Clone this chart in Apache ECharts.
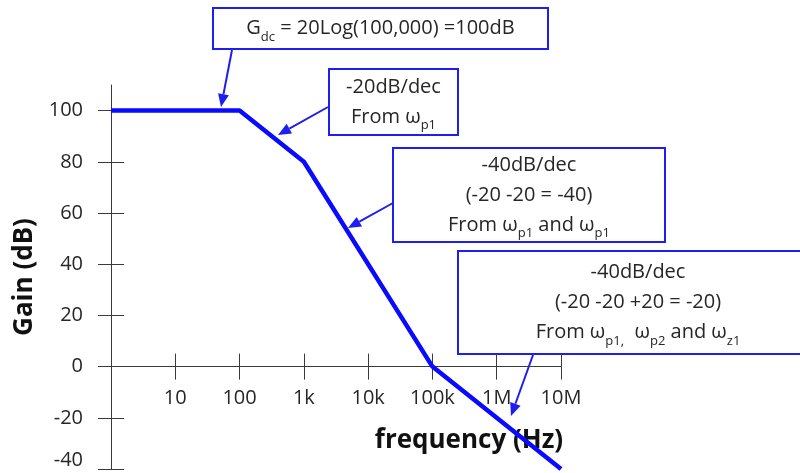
<!DOCTYPE html>
<html><head><meta charset="utf-8">
<script src="https://cdn.jsdelivr.net/npm/echarts@6/dist/echarts.min.js"></script>
<style>html,body{margin:0;padding:0;background:#fff}#c{width:800px;height:473px}</style>
</head><body><div id="c"></div>
<script>
const frequencies = [1, 100, 1000, 100000, 10000000];
const gainDb = [100, 100, 80, 0, -40];
const xTickLabels = {10:'10',100:'100',1000:'1k',10000:'10k',100000:'100k',1000000:'1M',10000000:'10M'};
const yTicks = [-40,-20,0,20,40,60,80,100];

const FONT = '"Open Sans", sans-serif';
const BLUE = '#0a0aff';
const BOX = '#1e1ef0';
const TXT = '#262626';

function box(x, y, w, h, lines) {
  return {
    type: 'group', z: 50,
    children: [
      {type:'rect', shape:{x:x,y:y,width:w,height:h}, style:{fill:'#fff', stroke:BOX, lineWidth:2}},
      {type:'text', style:{
        x: x + w/2, y: y + h/2, align:'center', verticalAlign:'middle',
        text: lines.join('\n'), fill: TXT, fontFamily: FONT, fontSize: 20, lineHeight: 30,
        rich: {
          n:{fontSize:20, fontFamily:FONT, fill:TXT, lineHeight:30},
          s:{fontSize:13, fontFamily:FONT, fill:TXT, lineHeight:17, verticalAlign:'bottom'}
        }
      }}
    ]
  };
}
function arrow(x1, y1, x2, y2) {
  const a = Math.atan2(y2-y1, x2-x1), L = 13, W = 5.5;
  const bx = x2 - L*Math.cos(a), by = y2 - L*Math.sin(a);
  const px = -Math.sin(a), py = Math.cos(a);
  return {
    type:'group', z: 60,
    children: [
      {type:'line', shape:{x1:x1,y1:y1,x2:bx,y2:by}, style:{stroke:BOX, lineWidth:2}},
      {type:'polygon', shape:{points:[[x2,y2],[bx+W*px,by+W*py],[bx-W*px,by-W*py]]}, style:{fill:BOX}}
    ]
  };
}

const chart = echarts.init(document.getElementById('c'));
const axisColor = '#3a3a3a';
chart.setOption({
  animation:false,
  grid:{left:111, right:239, top:85, bottom:4, containLabel:false, outerBoundsMode:'none'},
  xAxis:[{
    type:'log', logBase:10, min:1, max:10000000, position:'bottom', offset:0,
    axisLine:{onZero:false, lineStyle:{color:axisColor, width:1}},
    axisTick:{show:true, length:13, inside:false, lineStyle:{color:axisColor}},
    splitLine:{show:false}, minorTick:{show:false},
    axisLabel:{margin:22, fontSize:20, fontFamily:FONT, color:TXT, formatter:v=>xTickLabels[Math.round(v)]||''},
    name:'frequency (Hz)', nameLocation:'middle', nameGap:61,
    nameTextStyle:{fontSize:26, fontWeight:'bold', fontFamily:FONT, color:'#111', padding:[0,0,0,266]}
  },{
    type:'log', logBase:10, min:1, max:10000000, position:'bottom', offset:0,
    axisLine:{onZero:false, show:false},
    axisTick:{show:true, length:13, inside:true, lineStyle:{color:axisColor}},
    splitLine:{show:false}, axisLabel:{show:false}
  }],
  yAxis:[{
    type:'value', min:-40, max:110, interval:20, position:'left',
    axisLine:{show:true, onZero:false, lineStyle:{color:axisColor, width:1}},
    axisTick:{show:true, length:13, inside:false, customValues:yTicks, lineStyle:{color:axisColor}},
    axisLabel:{margin:28, fontSize:20, fontFamily:FONT, color:TXT, showMaxLabel:false,
      formatter:v=>(yTicks.indexOf(v)<0 ? '' : (v===yTicks[0] ? '{lo|'+v+'}' : String(v))),
      rich:{lo:{fontSize:20, fontFamily:FONT, color:TXT, padding:[0,0,18,0]}}},
    splitLine:{show:false},
    name:'Gain (dB)', nameLocation:'middle', nameGap:59, nameRotate:90,
    nameTextStyle:{fontSize:26, fontWeight:'bold', fontFamily:FONT, color:'#111'}
  },{
    type:'value', min:-40, max:110, position:'left',
    axisLine:{show:false, onZero:false},
    axisTick:{show:true, length:13, inside:true, customValues:yTicks, lineStyle:{color:axisColor}},
    axisLabel:{show:false}, splitLine:{show:false}
  }],
  series:[{
    type:'line', xAxisIndex:0, yAxisIndex:0, z:10,
    data: frequencies.map((f,i)=>[f, gainDb[i]]),
    showSymbol:false, symbol:'none',
    lineStyle:{color:BLUE, width:4.5}
  }],
  graphic:[
    box(213, 8, 335, 41, ['{n|G}{s|dc}{n| = 20Log(100,000) =100dB}']),
    box(329, 69, 129, 66, ['{n|-20dB/dec}', '{n|From ω}{s|p1}']),
    box(393, 148, 272, 94, ['{n|-40dB/dec}', '{n|(-20 -20 = -40)}', '{n|From ω}{s|p1}{n| and ω}{s|p1}']),
    box(458, 251, 360, 103, ['{n|-40dB/dec}', '{n|(-20 -20 +20 = -20)}', '{n|From ω}{s|p1,}{n|  ω}{s|p2}{n| and ω}{s|z1}']),
    arrow(232, 50, 221, 107),
    arrow(328, 107, 278, 135),
    arrow(393, 203, 348, 228),
    arrow(533, 355, 511, 416)
  ]
});
// place the frequency axis on the 0 dB line (axis crosses at zero, labels follow it)
const zeroPx = chart.convertToPixel({yAxisIndex:0}, 0);
const minPx = chart.convertToPixel({yAxisIndex:0}, -40);
const off = -(minPx - zeroPx);
chart.setOption({xAxis:[{offset:off},{offset:off}]});
</script></body></html>
